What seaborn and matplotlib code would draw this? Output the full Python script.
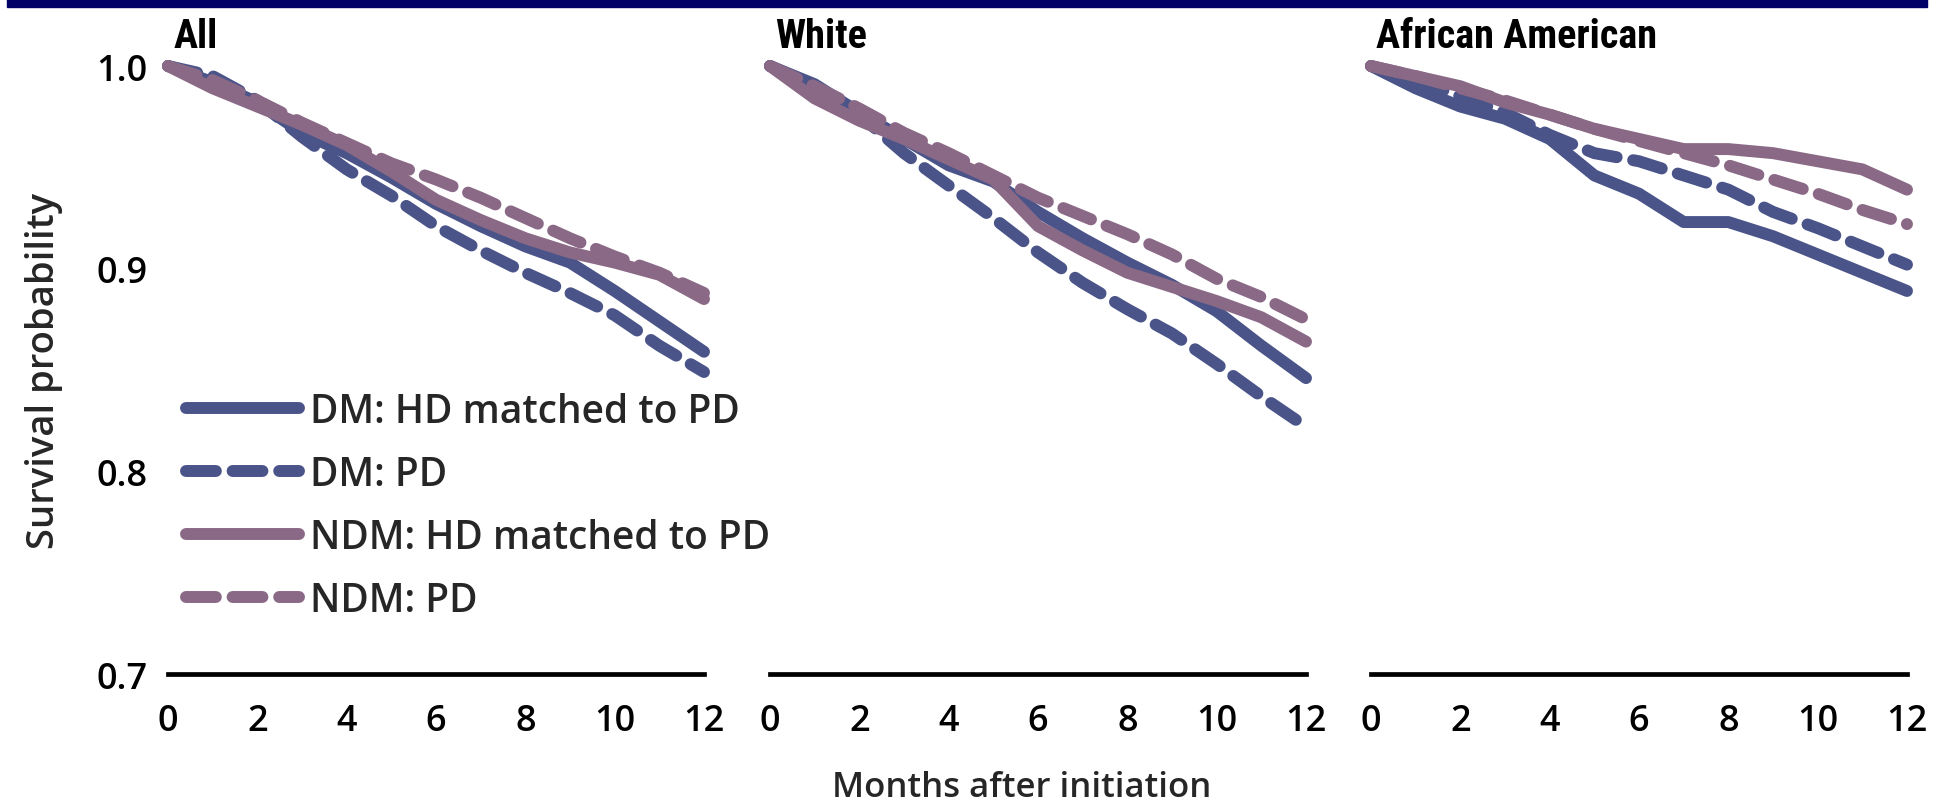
import matplotlib
matplotlib.use("Agg")
import matplotlib.pyplot as plt
from matplotlib import font_manager
from matplotlib.lines import Line2D
from matplotlib.patches import Rectangle
import seaborn as sns
import pandas as pd

# ---- data: Kaplan-Meier style survival by month ----
months = list(range(13))
panels = ["All", "White", "African American"]
series_names = ["DM: HD matched to PD", "DM: PD", "NDM: HD matched to PD", "NDM: PD"]

all_dm_hd = [1.0, 0.992, 0.982, 0.967, 0.957, 0.945, 0.932, 0.921, 0.911, 0.903, 0.889, 0.874, 0.859]
all_dm_pd = [1.0, 0.995, 0.983, 0.965, 0.949, 0.936, 0.921, 0.909, 0.898, 0.888, 0.877, 0.862, 0.849]
all_ndm_hd = [1.0, 0.989, 0.980, 0.971, 0.961, 0.948, 0.934, 0.924, 0.915, 0.908, 0.903, 0.897, 0.885]
all_ndm_pd = [1.0, 0.993, 0.983, 0.972, 0.962, 0.952, 0.944, 0.935, 0.925, 0.915, 0.906, 0.898, 0.888]

white_dm_hd = [1.0, 0.991, 0.977, 0.964, 0.951, 0.943, 0.928, 0.915, 0.903, 0.892, 0.879, 0.862, 0.846]
white_dm_pd = [1.0, 0.990, 0.976, 0.957, 0.941, 0.925, 0.908, 0.893, 0.880, 0.868, 0.853, 0.837, 0.822]
white_ndm_hd = [1.0, 0.984, 0.973, 0.964, 0.954, 0.944, 0.921, 0.909, 0.898, 0.891, 0.884, 0.876, 0.864]
white_ndm_pd = [1.0, 0.990, 0.979, 0.967, 0.957, 0.946, 0.935, 0.926, 0.917, 0.907, 0.895, 0.886, 0.875]

aa_dm_hd = [1.0, 0.989, 0.980, 0.974, 0.964, 0.946, 0.937, 0.923, 0.923, 0.916, 0.907, 0.898, 0.889]
aa_dm_pd = [1.0, 0.993, 0.985, 0.977, 0.966, 0.957, 0.953, 0.946, 0.939, 0.928, 0.920, 0.911, 0.902]
aa_ndm_hd = [1.0, 0.995, 0.990, 0.982, 0.976, 0.969, 0.964, 0.959, 0.959, 0.957, 0.953, 0.949, 0.939]
aa_ndm_pd = [1.0, 0.995, 0.989, 0.983, 0.976, 0.969, 0.963, 0.957, 0.951, 0.944, 0.937, 0.929, 0.922]

x_ticks = [0, 2, 4, 6, 8, 10, 12]
y_ticks = [0.7, 0.8, 0.9, 1.0]
y_tick_labels = ["0.7", "0.8", "0.9", "1.0"]

panel_series = {
    "All": [all_dm_hd, all_dm_pd, all_ndm_hd, all_ndm_pd],
    "White": [white_dm_hd, white_dm_pd, white_ndm_hd, white_ndm_pd],
    "African American": [aa_dm_hd, aa_dm_pd, aa_ndm_hd, aa_ndm_pd],
}

rows = []
for panel in panels:
    for name, values in zip(series_names, panel_series[panel]):
        for m, v in zip(months, values):
            rows.append({"panel": panel, "series": name, "month": m, "survival": v})
df = pd.DataFrame(rows)

# ---- styling ----
sns.set_theme(style="white")
available = {f.name for f in font_manager.fontManager.ttflist}
body_font = next((f for f in ["Open Sans", "Lato", "DejaVu Sans"] if f in available), "DejaVu Sans")
title_font = next((f for f in ["Liberation Sans Narrow", "Roboto Condensed", "Open Sans", "DejaVu Sans"]
                   if f in available), "DejaVu Sans")
plt.rcParams["font.family"] = [body_font, "DejaVu Sans"]
TEXT_WEIGHT = 600

BLUE = "#4a5489"
MAUVE = "#8a6986"
palette = {series_names[0]: BLUE, series_names[1]: BLUE,
           series_names[2]: MAUVE, series_names[3]: MAUVE}
dash = (2.5, 1.4)
dashes = {series_names[0]: "", series_names[1]: dash,
          series_names[2]: "", series_names[3]: dash}
LW = 8.6

W, H = 1946, 812
fig = plt.figure(figsize=(W / 100, H / 100), dpi=100)

lefts = [168, 770, 1371]
ax_w = 536
ax_top, ax_bottom = 67, 675

axes = []
for i, panel in enumerate(panels):
    ax = fig.add_axes([lefts[i] / W, 1 - ax_bottom / H, ax_w / W, (ax_bottom - ax_top) / H])
    sub = df[df["panel"] == panel]
    sns.lineplot(data=sub, x="month", y="survival", hue="series", style="series",
                 hue_order=series_names, style_order=series_names,
                 palette=palette, dashes=dashes, linewidth=LW, legend=False, ax=ax,
                 clip_on=False, dash_capstyle="round", solid_capstyle="round",
                 solid_joinstyle="round")
    ax.set_xlim(0, 12)
    ax.set_ylim(0.7, 1.0)
    ax.set_xticks(x_ticks)
    ax.set_xticklabels([str(t) for t in x_ticks], fontsize=26, fontweight=TEXT_WEIGHT)
    ax.set_yticks(y_ticks)
    if i == 0:
        ax.set_yticklabels(y_tick_labels, fontsize=26, fontweight=TEXT_WEIGHT)
        ax.set_ylabel("Survival probability", fontsize=27.5, fontweight=TEXT_WEIGHT, labelpad=24)
    else:
        ax.set_yticklabels([])
        ax.set_ylabel("")
    ax.set_xlabel("")
    ax.tick_params(axis="both", length=0, colors="black")
    ax.tick_params(axis="x", pad=21)
    ax.tick_params(axis="y", pad=15)
    for side in ["top", "right", "left"]:
        ax.spines[side].set_visible(False)
    ax.spines["bottom"].set_linewidth(3.4)
    ax.spines["bottom"].set_color("black")
    ax.grid(False)
    ax.set_facecolor("white")
    ax.text(0.01, 1.0 + 30 / (ax_bottom - ax_top), panel, transform=ax.transAxes,
            ha="left", va="center", fontsize=29, fontweight="bold",
            family=[title_font, "DejaVu Sans"], color="black")
    axes.append(ax)

fig.text(1022 / W, 1 - 788 / H, "Months after initiation", ha="center", va="center",
         fontsize=25, fontweight=TEXT_WEIGHT)

handles = [Line2D([0], [0], color=palette[n], linewidth=LW,
                  linestyle="-" if dashes[n] == "" else (0, dash),
                  dash_capstyle="round", solid_capstyle="round")
           for n in series_names]
fig.legend(handles, series_names, loc="upper left",
           bbox_to_anchor=(186 / W, 1 - 393 / H), bbox_transform=fig.transFigure,
           frameon=False, prop={"size": 28, "weight": TEXT_WEIGHT},
           handlelength=2.9, handletextpad=0.3,
           labelspacing=0.59, borderpad=0, borderaxespad=0)

# navy rule across the top
fig.patches.append(Rectangle((7 / W, 1 - 8 / H), 1920 / W, 8 / H,
                             transform=fig.transFigure, color="#000066", zorder=5))

fig.savefig("out.png", dpi=100, facecolor="white")
